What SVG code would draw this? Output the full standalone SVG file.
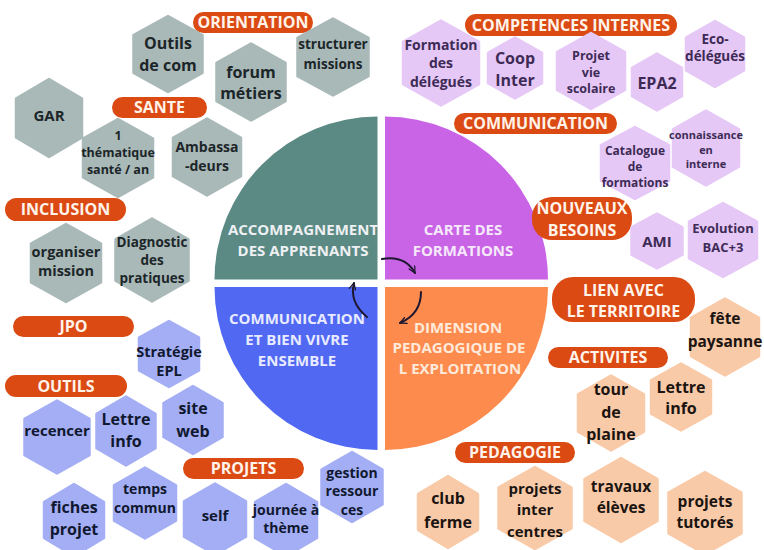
<svg xmlns="http://www.w3.org/2000/svg" xmlns:xlink="http://www.w3.org/1999/xlink" width="764" height="550" viewBox="0 0 764 550">
<style>
text{font-family:"Open Sans","Liberation Sans",sans-serif;font-weight:700;text-anchor:middle}
.pill{fill:#db4a12}
.pt{fill:#fff3ea;font-size:16px}
.qt{font-size:15px}
#hex{stroke-width:2.5;stroke-linejoin:round;vector-effect:non-scaling-stroke}
.hg{fill:#a9b9b8;stroke:#a9b9b8}.hb{fill:#a4aef4;stroke:#a4aef4}.hp{fill:#e6c8f7;stroke:#e6c8f7}.ho{fill:#f9caa8;stroke:#f9caa8}
.tg{fill:#1c2629}.tb{fill:#101830}.tp{fill:#3d2b55}.to{fill:#1b1410}
.arr{fill:none;stroke:#1e1730;stroke-width:2;stroke-linecap:round}
</style>
<defs>
<polygon id="hex" points="0,-1 1,-0.5 1,0.5 0,1 -1,0.5 -1,-0.5"/>
<marker id="ah" viewBox="0 0 10 10" refX="9" refY="5" markerWidth="8" markerHeight="8" orient="auto" markerUnits="userSpaceOnUse">
<path d="M1,1 L9,5 L1,9" fill="none" stroke="#1e1730" stroke-width="1.6" stroke-linecap="round" stroke-linejoin="round"/>
</marker>
</defs>
<rect width="764" height="550" fill="#ffffff"/>

<g id="q-accompagnement">
<path d="M377.5,279.5 L214.5,279.5 A163,163 0 0 1 377.5,116.5 Z" fill="#5b8a84"/>
<text class="qt" fill="#eef0f3" x="303" y="235">ACCOMPAGNEMENT</text>
<text class="qt" fill="#eef0f3" x="303" y="256">DES APPRENANTS</text>
</g>
<g id="q-carte">
<path d="M385,279.5 L385,116.5 A163,163 0 0 1 548,279.5 Z" fill="#c864e5"/>
<text class="qt" fill="#f6e8fb" x="463" y="235">CARTE DES</text>
<text class="qt" fill="#f6e8fb" x="463" y="256">FORMATIONS</text>
</g>
<g id="q-dimension">
<path d="M385,287 L548,287 A163,163 0 0 1 385,450 Z" fill="#fd8b4e"/>
<text class="qt" fill="#feeadb" x="458" y="333">DIMENSION</text>
<text class="qt" fill="#feeadb" x="459" y="353">PEDAGOGIQUE DE</text>
<text class="qt" fill="#feeadb" x="460" y="374">L EXPLOITATION</text>
</g>
<g id="q-communication">
<path d="M377.5,287 L377.5,450 A163,163 0 0 1 214.5,287 Z" fill="#5068f2"/>
<text class="qt" fill="#e8ebff" x="297" y="324">COMMUNICATION</text>
<text class="qt" fill="#e8ebff" x="297" y="345">ET BIEN VIVRE</text>
<text class="qt" fill="#e8ebff" x="297" y="366">ENSEMBLE</text>
</g>

<g id="connectors">
<path class="arr" d="M382,259 Q405,255 415,273" marker-end="url(#ah)"/>
<path class="arr" d="M421,292 Q421,314 400,323" marker-end="url(#ah)"/>
<path class="arr" d="M367,317 Q349,302 354,283" marker-end="url(#ah)"/>
</g>

<g id="p-orientation"><rect class="pill" x="193" y="12" width="120" height="21" rx="10.5"/><text class="pt" x="253" y="28">ORIENTATION</text></g>
<g id="p-sante"><rect class="pill" x="112" y="97" width="95" height="21" rx="10.5"/><text class="pt" x="159.5" y="113">SANTE</text></g>
<g id="p-inclusion"><rect class="pill" x="5" y="198" width="121" height="23" rx="11.5"/><text class="pt" x="65.5" y="215">INCLUSION</text></g>
<g id="p-jpo"><rect class="pill" x="13" y="316" width="121" height="21" rx="10.5"/><text class="pt" x="73.5" y="332">JPO</text></g>
<g id="p-outils"><rect class="pill" x="5" y="375" width="122" height="22" rx="11"/><text class="pt" x="66" y="392">OUTILS</text></g>
<g id="p-projets"><rect class="pill" x="183" y="458" width="121" height="21" rx="10.5"/><text class="pt" x="243.5" y="474">PROJETS</text></g>
<g id="p-competences"><rect class="pill" x="465" y="14" width="212" height="22" rx="11"/><text class="pt" x="571" y="31">COMPETENCES INTERNES</text></g>
<g id="p-communication"><rect class="pill" x="454" y="113" width="163" height="21" rx="10.5"/><text class="pt" x="535.5" y="129">COMMUNICATION</text></g>
<g id="p-nouveaux"><rect class="pill" x="532" y="197" width="100" height="43" rx="20"/><text class="pt" x="582" y="214">NOUVEAUX</text><text class="pt" x="582" y="236">BESOINS</text></g>
<g id="p-lien"><rect class="pill" x="552" y="277" width="143" height="45" rx="21"/><text class="pt" x="623.5" y="296">LIEN AVEC</text><text class="pt" x="623.5" y="317">LE TERRITOIRE</text></g>
<g id="p-activites"><rect class="pill" x="548" y="347" width="120" height="21" rx="10.5"/><text class="pt" x="608" y="363">ACTIVITES</text></g>
<g id="p-pedagogie"><rect class="pill" x="455" y="442" width="120" height="21" rx="10.5"/><text class="pt" x="515" y="458">PEDAGOGIE</text></g>

<g id="h-outils-com"><use xlink:href="#hex" class="hg" transform="translate(168 54) scale(34.5 38)"/><text class="tg" font-size="16" x="168" y="49">Outils</text><text class="tg" font-size="16" x="168" y="71">de com</text></g>
<g id="h-forum"><use xlink:href="#hex" class="hg" transform="translate(251 82) scale(34.5 38.5)"/><text class="tg" font-size="16" x="251" y="78">forum</text><text class="tg" font-size="16" x="251" y="99">métiers</text></g>
<g id="h-structurer"><use xlink:href="#hex" class="hg" transform="translate(333 57) scale(35.5 38.5)"/><text class="tg" font-size="13.5" x="333" y="49">structurer</text><text class="tg" font-size="13.5" x="333" y="69">missions</text></g>
<g id="h-gar"><use xlink:href="#hex" class="hg" transform="translate(49 118) scale(33 39)"/><text class="tg" font-size="15" x="49" y="121">GAR</text></g>
<g id="h-thematique"><use xlink:href="#hex" class="hg" transform="translate(118 158) scale(35 39)"/><text class="tg" font-size="12.5" x="118" y="140">1</text><text class="tg" font-size="12.5" x="118" y="157">thématique</text><text class="tg" font-size="12.5" x="118" y="174">santé / an</text></g>
<g id="h-ambassadeurs"><use xlink:href="#hex" class="hg" transform="translate(207 157) scale(34 38.5)"/><text class="tg" font-size="14" x="207" y="152">Ambassa</text><text class="tg" font-size="14" x="207" y="171">-deurs</text></g>
<g id="h-organiser"><use xlink:href="#hex" class="hg" transform="translate(66 263) scale(35 39)"/><text class="tg" font-size="14.5" x="66" y="257">organiser</text><text class="tg" font-size="14.5" x="66" y="276">mission</text></g>
<g id="h-diagnostic"><use xlink:href="#hex" class="hg" transform="translate(152 260) scale(36.5 41.5)"/><text class="tg" font-size="13.5" x="152" y="247">Diagnostic</text><text class="tg" font-size="13.5" x="152" y="265">des</text><text class="tg" font-size="13.5" x="152" y="283">pratiques</text></g>

<g id="h-strategie"><use xlink:href="#hex" class="hb" transform="translate(169 354) scale(30 33)"/><text class="tb" font-size="14.5" x="169" y="357">Stratégie</text><text class="tb" font-size="14.5" x="169" y="376">EPL</text></g>
<g id="h-recencer"><use xlink:href="#hex" class="hb" transform="translate(57 437) scale(32.5 36.5)"/><text class="tb" font-size="15" x="57" y="436">recencer</text></g>
<g id="h-lettre-info-b"><use xlink:href="#hex" class="hb" transform="translate(126 431) scale(29.5 34.5)"/><text class="tb" font-size="16" x="126" y="425">Lettre</text><text class="tb" font-size="16" x="126" y="447">info</text></g>
<g id="h-site-web"><use xlink:href="#hex" class="hb" transform="translate(193 420) scale(29.5 34)"/><text class="tb" font-size="16" x="193" y="414">site</text><text class="tb" font-size="16" x="193" y="437">web</text></g>
<g id="h-fiches"><use xlink:href="#hex" class="hb" transform="translate(74 520) scale(30 36)"/><text class="tb" font-size="16" x="74" y="513">fiches</text><text class="tb" font-size="16" x="74" y="535">projet</text></g>
<g id="h-temps"><use xlink:href="#hex" class="hb" transform="translate(145 503) scale(31 35.5)"/><text class="tb" font-size="14" x="145" y="494">temps</text><text class="tb" font-size="14" x="145" y="513">commun</text></g>
<g id="h-self"><use xlink:href="#hex" class="hb" transform="translate(215 519) scale(31 35.5)"/><text class="tb" font-size="15" x="215" y="521">self</text></g>
<g id="h-journee"><use xlink:href="#hex" class="hb" transform="translate(286 520) scale(31 36)"/><text class="tb" font-size="14" x="286" y="515">journée à</text><text class="tb" font-size="14" x="286" y="533">thème</text></g>
<g id="h-gestion"><use xlink:href="#hex" class="hb" transform="translate(352 487) scale(30.5 35)"/><text class="tb" font-size="14" x="352" y="478">gestion</text><text class="tb" font-size="14" x="352" y="496">ressour</text><text class="tb" font-size="14" x="352" y="515">ces</text></g>

<g id="h-formation"><use xlink:href="#hex" class="hp" transform="translate(441 63) scale(38 42.5)"/><text class="tp" font-size="14" x="441" y="50">Formation</text><text class="tp" font-size="14" x="441" y="68">des</text><text class="tp" font-size="14" x="441" y="87">délégués</text></g>
<g id="h-coop"><use xlink:href="#hex" class="hp" transform="translate(515 68) scale(27 30.5)"/><text class="tp" font-size="16" x="515" y="64">Coop</text><text class="tp" font-size="16" x="515" y="86">Inter</text></g>
<g id="h-projet-vie"><use xlink:href="#hex" class="hp" transform="translate(591 71) scale(34 38)"/><text class="tp" font-size="12.5" x="591" y="60">Projet</text><text class="tp" font-size="12.5" x="591" y="77">vie</text><text class="tp" font-size="12.5" x="591" y="93">scolaire</text></g>
<g id="h-epa2"><use xlink:href="#hex" class="hp" transform="translate(657 82) scale(25 28.5)"/><text class="tp" font-size="16" x="657" y="89">EPA2</text></g>
<g id="h-eco"><use xlink:href="#hex" class="hp" transform="translate(715 54) scale(29 33)"/><text class="tp" font-size="13.5" x="715" y="44">Eco-</text><text class="tp" font-size="13.5" x="715" y="61">délégués</text></g>
<g id="h-catalogue"><use xlink:href="#hex" class="hp" transform="translate(635 163) scale(34 36)"/><text class="tp" font-size="12" x="635" y="155">Catalogue</text><text class="tp" font-size="12" x="635" y="171">de</text><text class="tp" font-size="12" x="635" y="187">formations</text></g>
<g id="h-connaissance"><use xlink:href="#hex" class="hp" transform="translate(706 148) scale(33 37.5)"/><text class="tp" font-size="11" x="706" y="139">connaissance</text><text class="tp" font-size="11" x="706" y="154">en</text><text class="tp" font-size="11" x="706" y="168">interne</text></g>
<g id="h-ami"><use xlink:href="#hex" class="hp" transform="translate(657 241) scale(25.5 27.5)"/><text class="tp" font-size="15" x="657" y="247">AMI</text></g>
<g id="h-evolution"><use xlink:href="#hex" class="hp" transform="translate(723 240) scale(34 37)"/><text class="tp" font-size="13" x="723" y="233">Evolution</text><text class="tp" font-size="13" x="723" y="252">BAC+3</text></g>

<g id="h-fete"><use xlink:href="#hex" class="ho" transform="translate(725 337) scale(34 38.5)"/><text class="to" font-size="15.5" x="725" y="324">fête</text><text class="to" font-size="15.5" x="725" y="347">paysanne</text></g>
<g id="h-tour"><use xlink:href="#hex" class="ho" transform="translate(611 413) scale(33 37.5)"/><text class="to" font-size="16" x="611" y="395">tour</text><text class="to" font-size="16" x="611" y="418">de</text><text class="to" font-size="16" x="611" y="440">plaine</text></g>
<g id="h-lettre-info-o"><use xlink:href="#hex" class="ho" transform="translate(681 397) scale(30 33.5)"/><text class="to" font-size="16" x="681" y="393">Lettre</text><text class="to" font-size="16" x="681" y="414">info</text></g>
<g id="h-club"><use xlink:href="#hex" class="ho" transform="translate(448 512) scale(30 36)"/><text class="to" font-size="16" x="448" y="504">club</text><text class="to" font-size="16" x="448" y="528">ferme</text></g>
<g id="h-projets-inter"><use xlink:href="#hex" class="ho" transform="translate(535 508) scale(36.5 41)"/><text class="to" font-size="15" x="535" y="494">projets</text><text class="to" font-size="15" x="535" y="515">inter</text><text class="to" font-size="15" x="535" y="537">centres</text></g>
<g id="h-travaux"><use xlink:href="#hex" class="ho" transform="translate(621 500) scale(36.5 42)"/><text class="to" font-size="15.5" x="621" y="492">travaux</text><text class="to" font-size="15.5" x="621" y="513">élèves</text></g>
<g id="h-tutores"><use xlink:href="#hex" class="ho" transform="translate(705 513) scale(36.5 41)"/><text class="to" font-size="15.5" x="705" y="507">projets</text><text class="to" font-size="15.5" x="705" y="528">tutorés</text></g>
</svg>
